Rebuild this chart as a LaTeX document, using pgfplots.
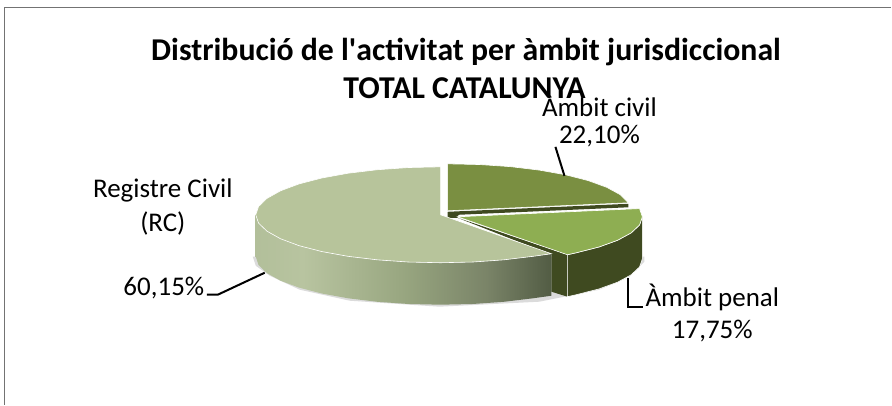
\documentclass[border=0pt]{standalone}
\usepackage{fontspec}
\setmainfont{Carlito}
\usepackage{pgfplots}
\pgfplotsset{compat=1.18}
\definecolor{bigtop}{RGB}{183,196,155}
\definecolor{civil}{RGB}{122,143,65}
\definecolor{penal}{RGB}{142,174,82}
\definecolor{dark}{RGB}{63,74,32}
\definecolor{sa}{RGB}{178,191,154}
\definecolor{sb}{RGB}{184,196,160}
\definecolor{sc}{RGB}{152,166,128}
\definecolor{sd}{RGB}{122,132,104}
\definecolor{se}{RGB}{82,92,68}
\pgfdeclarehorizontalshading{side}{100bp}{color(0bp)=(sa); color(25bp)=(sa); color(33bp)=(sb); color(50bp)=(sc); color(64bp)=(sd); color(75bp)=(se); color(100bp)=(se)}
\begin{document}
\begin{tikzpicture}
\begin{axis}[
  width=892pt,height=405pt,scale only axis,
  xmin=0,xmax=892,ymin=0,ymax=405,y dir=reverse,
  hide axis,clip=false]
\path (axis cs:0,0) rectangle (axis cs:892,405);
% frame
\addplot[draw=black!55,line width=1.8pt,mark=none] coordinates {(4.5,405) (4.5,7.5) (892,7.5)};
% shadow
\addplot[fill=black!14,draw=none,mark=none] coordinates {(253,257) (256,266) (270,276) (300,290) (350,301) (440,307) (540,302) (600,290) (630,277) (645,262) (645,257)} -- cycle;
% penal inner face
\addplot[fill=dark,draw=none,mark=none] coordinates {(458,218) (568,255) (568,297) (552,292) (552,255)} -- cycle;
% penal outer side
\addplot[fill=dark,draw=white,line width=0.6pt,mark=none] coordinates {(568,255) (576.9,253) (599.7,247.2) (618.2,240.5) (631.8,233.1) (640.2,225.2) (643,217) (643,259) (640.2,267.2) (631.8,275.1) (618.2,282.5) (599.7,289.2) (576.9,295) (568,297)} -- cycle;
% civil cut
\addplot[fill=dark,draw=none,mark=none] coordinates {(448,212) (629,204) (629,207.5) (459,215) (458,218) (448,218)} -- cycle;
% big side
\addplot[shade,shading=side,shading angle=0,draw=none,mark=none] coordinates {(256,215) (258.8,223.3) (267.2,231.4) (280.8,239) (299.3,245.9) (322.1,251.8) (348.5,256.6) (377.7,260.1) (408.9,262.3) (441,263) (473.1,262.3) (504.3,260.1) (533.5,256.6) (552,254) (552,296) (533.5,298.6) (504.3,302.1) (473.1,304.3) (441,305) (408.9,304.3) (377.7,302.1) (348.5,298.6) (322.1,293.8) (299.3,287.9) (280.8,281) (267.2,273.4) (258.8,265.3) (256,257)} -- cycle;
% big top (60,15 %)
\addplot[fill=bigtop,draw=white,line width=0.6pt,mark=none] coordinates {(441,215) (552,254) (533.5,256.6) (504.3,260.1) (473.1,262.3) (441,263) (408.9,262.3) (377.7,260.1) (348.5,256.6) (322.1,251.8) (299.3,245.9) (280.8,239) (267.2,231.4) (258.8,223.3) (256,215) (258.8,206.7) (267.2,198.6) (280.8,191) (299.3,184.1) (322.1,178.2) (348.5,173.4) (377.7,169.9) (408.9,167.7) (441,167)} -- cycle;
% civil top (22,10 %)
\addplot[fill=civil,draw=white,line width=0.6pt,mark=none] coordinates {(448,211) (448,164) (480,164.7) (510.9,166.8) (540,170.3) (566.3,175) (588.9,180.8) (607.3,187.5) (620.9,194.9) (629,203)} -- cycle;
% penal top (17,75 %)
\addplot[fill=penal,draw=white,line width=0.6pt,mark=none] coordinates {(458,217) (640.2,208.8) (643,217) (640.2,225.2) (631.8,233.1) (618.2,240.5) (599.7,247.2) (576.9,253) (568,255)} -- cycle;
% leaders
\addplot[black,line width=2pt,mark=none] coordinates {(556,147) (565,176)};
\addplot[black,line width=2pt,mark=none] coordinates {(207,295) (218,295) (265,273)};
\addplot[black,line width=2pt,mark=none] coordinates {(629,278) (629,307) (644,307)};
% text
\node[font=\fontsize{31.8}{36}\selectfont\bfseries,anchor=center] at (axis cs:466.5,52) {Distribució de l\textquotesingle activitat per àmbit jurisdiccional};
\node[font=\fontsize{31.8}{36}\selectfont\bfseries,anchor=center] at (axis cs:465,88) {TOTAL CATALUNYA};
\node[font=\fontsize{27}{30}\selectfont,anchor=center] at (axis cs:600,105) {Àmbit civil};
\node[font=\fontsize{27}{30}\selectfont,anchor=center] at (axis cs:600,136) {22,10\%};
\node[font=\fontsize{27}{30}\selectfont,anchor=center] at (axis cs:163,191) {Registre Civil};
\node[font=\fontsize{27}{30}\selectfont,anchor=center] at (axis cs:163,224) {(RC)};
\node[font=\fontsize{27}{30}\selectfont,anchor=center] at (axis cs:164,288) {60,15\%};
\node[font=\fontsize{27}{30}\selectfont,anchor=center] at (axis cs:713,298) {Àmbit penal};
\node[font=\fontsize{27}{30}\selectfont,anchor=center] at (axis cs:713,331) {17,75\%};
\end{axis}
\end{tikzpicture}
\end{document}
